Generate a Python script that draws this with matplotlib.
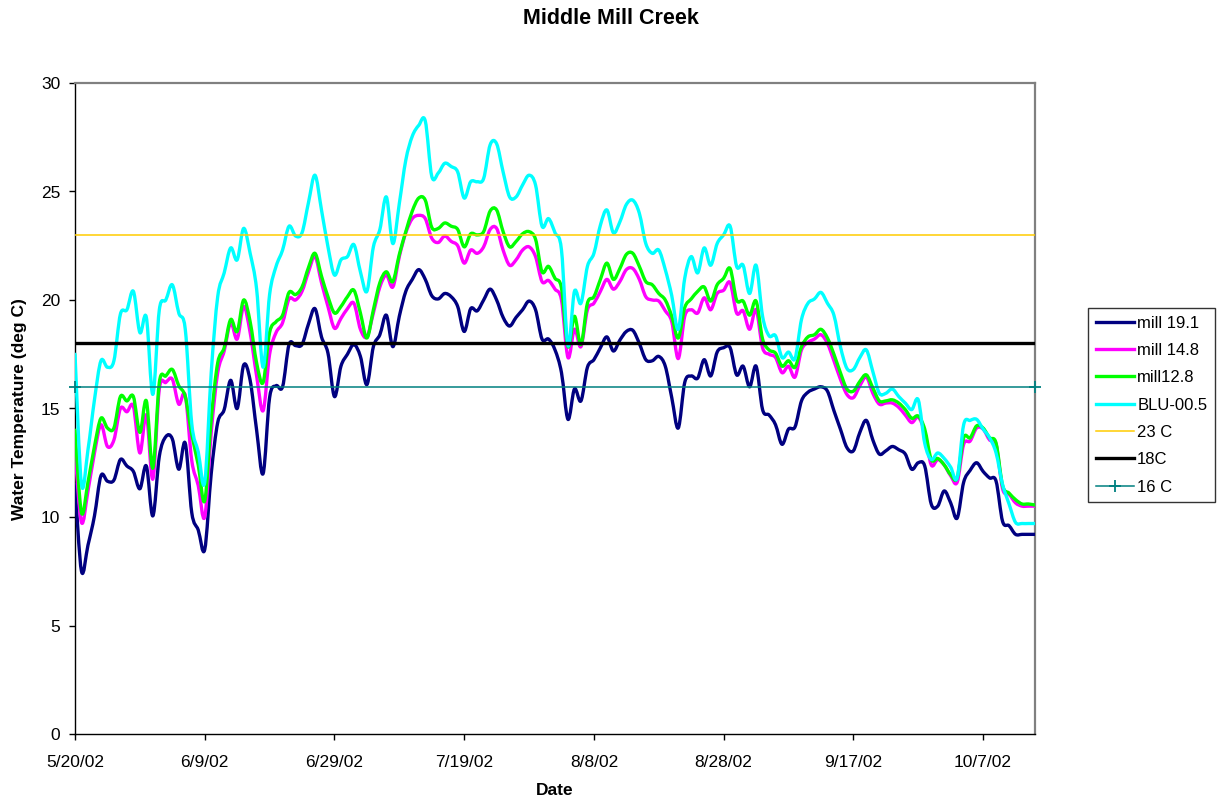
import numpy as np
import pandas as pd
import matplotlib
matplotlib.use("Agg")
import matplotlib.pyplot as plt
import matplotlib.dates as mdates
from matplotlib.path import Path
from matplotlib.patches import PathPatch
from matplotlib.lines import Line2D

plt.rcParams['font.family'] = ['Liberation Sans', 'DejaVu Sans']

# Daily mean water temperature, 5/20/02 - 10/15/02
dates = pd.date_range("2002-05-20", periods=149, freq="D")

mill_19_1 = [
    11.5, 7.5, 8.7, 10.05, 11.9, 11.65, 11.7, 12.65, 12.35, 12.1,
    11.3, 12.35, 10.05, 12.8, 13.7, 13.6, 12.2, 13.4, 10.2, 9.4,
    8.5, 12.0, 14.35, 14.95, 16.3, 15.0, 17.0, 16.3, 14.0, 12.0,
    15.5, 16.05, 16.0, 17.95, 17.9, 17.95, 18.9, 19.6, 18.3, 17.55,
    15.55, 16.95, 17.5, 17.95, 17.4, 16.1, 17.85, 18.4, 19.3, 17.85,
    19.25, 20.4, 20.95, 21.4, 20.95, 20.2, 20.05, 20.3, 20.15, 19.7,
    18.55, 19.6, 19.5, 20.0, 20.5, 20.0, 19.2, 18.8, 19.2, 19.55,
    19.95, 19.55, 18.2, 18.2, 17.7, 16.65, 14.5, 15.9, 15.35, 16.9,
    17.25, 17.8, 18.3, 17.65, 18.15, 18.55, 18.6, 18.0, 17.25, 17.2,
    17.4, 16.95, 15.5, 14.1, 16.2, 16.5, 16.4, 17.25, 16.5, 17.6,
    17.8, 17.8, 16.55, 16.95, 16.0, 16.95, 14.95, 14.7, 14.25, 13.35,
    14.05, 14.15, 15.35, 15.75, 15.9, 16.0, 15.8, 14.9, 14.05, 13.2,
    13.05, 13.9, 14.45, 13.55, 12.9, 13.05, 13.25, 13.1, 12.9, 12.2,
    12.5, 12.35, 10.6, 10.5, 11.2, 10.65, 9.95, 11.6, 12.15, 12.5,
    12.1, 11.8, 11.65, 9.8, 9.6, 9.2, 9.2, 9.2, 9.2,
]

mill_14_8 = [
    13.0, 9.75, 11.2, 12.95, 14.25, 13.25, 13.55, 15.0, 14.85, 15.1,
    12.95, 14.7, 11.75, 15.9, 16.2, 16.35, 15.2, 15.6, 12.6, 11.45,
    10.0, 13.9, 16.65, 17.65, 18.95, 18.2, 19.7, 18.5, 16.5, 14.9,
    17.5, 18.5, 18.95, 20.05, 20.0, 20.4, 21.3, 22.0, 20.8, 19.7,
    18.7, 19.15, 19.6, 19.85, 18.65, 18.3, 19.4, 20.6, 21.15, 20.6,
    22.0, 23.1, 23.75, 23.9, 23.75, 22.85, 22.65, 22.95, 22.7, 22.5,
    21.7, 22.3, 22.15, 22.45, 23.25, 23.3, 22.3, 21.6, 21.85, 22.3,
    22.45, 22.0, 20.85, 20.9, 20.5, 20.0, 17.35, 18.65, 17.85, 19.55,
    19.85, 20.4, 20.95, 20.5, 20.85, 21.4, 21.45, 20.95, 20.15, 20.0,
    19.95, 19.5, 19.0, 17.3, 19.25, 19.55, 19.4, 20.1, 19.55, 20.3,
    20.45, 20.8, 19.4, 19.5, 18.65, 19.55, 17.8, 17.5, 17.35, 16.65,
    16.95, 16.45, 17.7, 18.05, 18.2, 18.4, 18.0, 17.2, 16.35, 15.65,
    15.5, 16.05, 16.45, 15.7, 15.2, 15.25, 15.25, 15.05, 14.7, 14.35,
    14.6, 13.9, 12.4, 12.65, 12.4, 11.9, 11.6, 13.35, 13.5, 14.1,
    14.05, 13.55, 13.35, 11.3, 11.05, 10.65, 10.5, 10.5, 10.5,
]

mill_12_8 = [
    14.0, 10.2, 11.6, 13.25, 14.55, 14.1, 14.1, 15.55, 15.35, 15.55,
    13.9, 15.35, 12.25, 16.2, 16.5, 16.8, 16.05, 15.55, 13.8, 12.4,
    10.75, 14.5, 17.1, 17.8, 19.1, 18.55, 20.0, 19.0, 17.1, 16.2,
    18.5, 19.0, 19.3, 20.35, 20.25, 20.6, 21.5, 22.15, 21.1, 20.15,
    19.4, 19.7, 20.15, 20.45, 19.4, 18.25, 19.55, 20.8, 21.3, 20.85,
    22.1, 23.15, 24.1, 24.7, 24.6, 23.35, 23.3, 23.55, 23.4, 23.25,
    22.45, 23.05, 23.0, 23.15, 24.1, 24.15, 23.15, 22.45, 22.7, 23.05,
    23.15, 22.8, 21.3, 21.55, 21.0, 20.55, 17.85, 19.25, 17.95, 19.85,
    20.15, 20.95, 21.7, 20.95, 21.45, 22.1, 22.15, 21.55, 20.85, 20.7,
    20.3, 20.0, 19.25, 18.25, 19.65, 20.05, 20.4, 20.6, 19.95, 20.7,
    21.0, 21.45, 20.0, 19.95, 19.3, 19.95, 18.2, 17.7, 17.55, 16.95,
    17.2, 16.9, 17.85, 18.3, 18.4, 18.65, 18.25, 17.5, 16.65, 15.9,
    15.8, 16.25, 16.55, 15.95, 15.35, 15.35, 15.4, 15.25, 14.95, 14.55,
    14.65, 14.05, 12.65, 12.7, 12.4, 11.95, 11.8, 13.65, 13.65, 14.2,
    14.1, 13.65, 13.4, 11.45, 11.1, 10.8, 10.6, 10.6, 10.55,
]

blu_00_5 = [
    17.5, 11.5, 13.1, 15.4, 17.2, 16.9, 17.2, 19.35, 19.55, 20.4,
    18.5, 19.2, 15.65, 19.55, 20.0, 20.7, 19.4, 18.65, 14.3, 13.0,
    11.6, 16.65, 20.15, 21.25, 22.4, 21.85, 23.3, 22.15, 20.5, 16.9,
    20.25, 21.55, 22.3, 23.4, 22.95, 23.1, 24.5, 25.75, 24.15, 22.45,
    21.15, 21.85, 22.0, 22.55, 21.3, 20.4, 22.45, 23.25, 24.75, 22.6,
    24.45, 26.45, 27.55, 28.05, 28.25, 25.7, 25.85, 26.3, 26.15, 25.9,
    24.7, 25.45, 25.45, 25.6, 27.15, 27.2, 25.9, 24.75, 24.75, 25.3,
    25.75, 25.3, 23.4, 23.75, 23.1, 22.3, 17.9, 20.4, 19.85, 21.55,
    22.15, 23.45, 24.15, 23.1, 23.6, 24.4, 24.6, 24.0, 22.6, 22.15,
    22.3, 21.4, 20.2, 18.65, 21.0, 22.0, 21.25, 22.4, 21.6, 22.6,
    23.0, 23.4, 21.55, 21.6, 20.3, 21.6, 19.25, 18.35, 18.35, 17.35,
    17.6, 17.3, 19.1, 19.85, 20.05, 20.35, 19.85, 19.3, 17.85, 16.85,
    16.8, 17.35, 17.7, 16.7, 15.7, 15.7, 15.9, 15.55, 15.25, 14.95,
    15.4, 13.4, 12.65, 12.95, 12.7, 12.3, 11.8, 14.25, 14.45, 14.5,
    14.05, 13.65, 12.95, 11.5, 10.6, 9.75, 9.7, 9.7, 9.7,
]

# Temperature criteria (deg C)
criterion_23 = 23.0
criterion_18 = 18.0
criterion_16 = 16.0

series = [
    ("mill 19.1", mill_19_1, "#000080"),
    ("mill 14.8", mill_14_8, "#FF00FF"),
    ("mill12.8", mill_12_8, "#00FF00"),
    ("BLU-00.5", blu_00_5, "#00FFFF"),
]

tick_dates = pd.date_range("2002-05-20", periods=8, freq="20D")
tick_labels = [f"{d.month}/{d.day}/{d.strftime('%y')}" for d in tick_dates]


def smooth_path(xs, ys):
    """Cubic Bezier path through every point (Catmull-Rom tangents)."""
    xs = np.asarray(xs, float)
    ys = np.asarray(ys, float)
    n = len(xs)
    verts = [(xs[0], ys[0])]
    codes = [Path.MOVETO]
    for i in range(n - 1):
        a = i - 1 if i > 0 else i
        b = i + 2 if i + 2 < n else i + 1
        c1 = (xs[i] + (xs[i + 1] - xs[a]) / 6.0, ys[i] + (ys[i + 1] - ys[a]) / 6.0)
        c2 = (xs[i + 1] - (xs[b] - xs[i]) / 6.0, ys[i + 1] - (ys[b] - ys[i]) / 6.0)
        verts += [c1, c2, (xs[i + 1], ys[i + 1])]
        codes += [Path.CURVE4] * 3
    return Path(verts, codes)


W, H = 1221, 805
fig = plt.figure(figsize=(W / 100, H / 100), dpi=100)
ax = fig.add_axes([75 / W, 1 - 734 / H, 960 / W, 651 / H])

x = mdates.date2num(dates)
handles = []
for i, (name, vals, col) in enumerate(series):
    patch = PathPatch(smooth_path(x, vals), facecolor="none", edgecolor=col,
                      linewidth=2.4, joinstyle="round", capstyle="round",
                      zorder=3 + i)
    ax.add_patch(patch)
    handles.append(Line2D([], [], color=col, linewidth=2.4, label=name))

x_ends = [x[0], x[-1]]
h23, = ax.plot(x_ends, [criterion_23] * 2, color="#FFCC00", linewidth=1.1,
               zorder=8, label="23 C")
h18, = ax.plot(x_ends, [criterion_18] * 2, color="#000000", linewidth=2.4,
               zorder=9, label="18C")
h16, = ax.plot(x_ends, [criterion_16] * 2, color="#008080", linewidth=1.1,
               marker="+", markersize=9, markeredgewidth=1.3, zorder=10,
               clip_on=False, label="16 C")
handles += [h23, h18, h16]

ax.set_xlim(x[0], x[-1])
ax.set_ylim(0, 30)
ax.set_yticks(range(0, 31, 5))
ax.set_xticks(mdates.date2num(tick_dates))
ax.set_xticklabels(tick_labels)

for side in ("top", "right"):
    ax.spines[side].set_color("#808080")
    ax.spines[side].set_linewidth(1.6)
for side in ("left", "bottom"):
    ax.spines[side].set_color("#000000")
    ax.spines[side].set_linewidth(1.0)

ax.tick_params(axis="y", direction="out", length=4.5, width=1, pad=6,
               labelsize=12.5)
ax.tick_params(axis="x", direction="out", length=4, width=1, pad=11,
               labelsize=12.5)

fig.text(0.5, 1 - 18 / H, "Middle Mill Creek", ha="center", va="center",
         fontsize=15.5, fontweight="bold")
fig.text((75 + 1035) / 2 / W, 1 - 790 / H, "Date", ha="center", va="center",
         fontsize=12.5, fontweight="bold")
fig.text(20 / W, 1 - 409 / H, "Water Temperature (deg C)", ha="center",
         va="center", rotation=90, fontsize=12.5, fontweight="bold")

leg = fig.legend(handles=handles, loc="center left",
                 bbox_to_anchor=(1088 / W, 1 - 405 / H), frameon=True,
                 fancybox=False, shadow=False, fontsize=12,
                 handlelength=2.3, handletextpad=0.2, labelspacing=0.74,
                 borderpad=0.45, borderaxespad=0)
leg.get_frame().set_edgecolor("#000000")
leg.get_frame().set_linewidth(1.0)

fig.savefig("out.png", dpi=100)
